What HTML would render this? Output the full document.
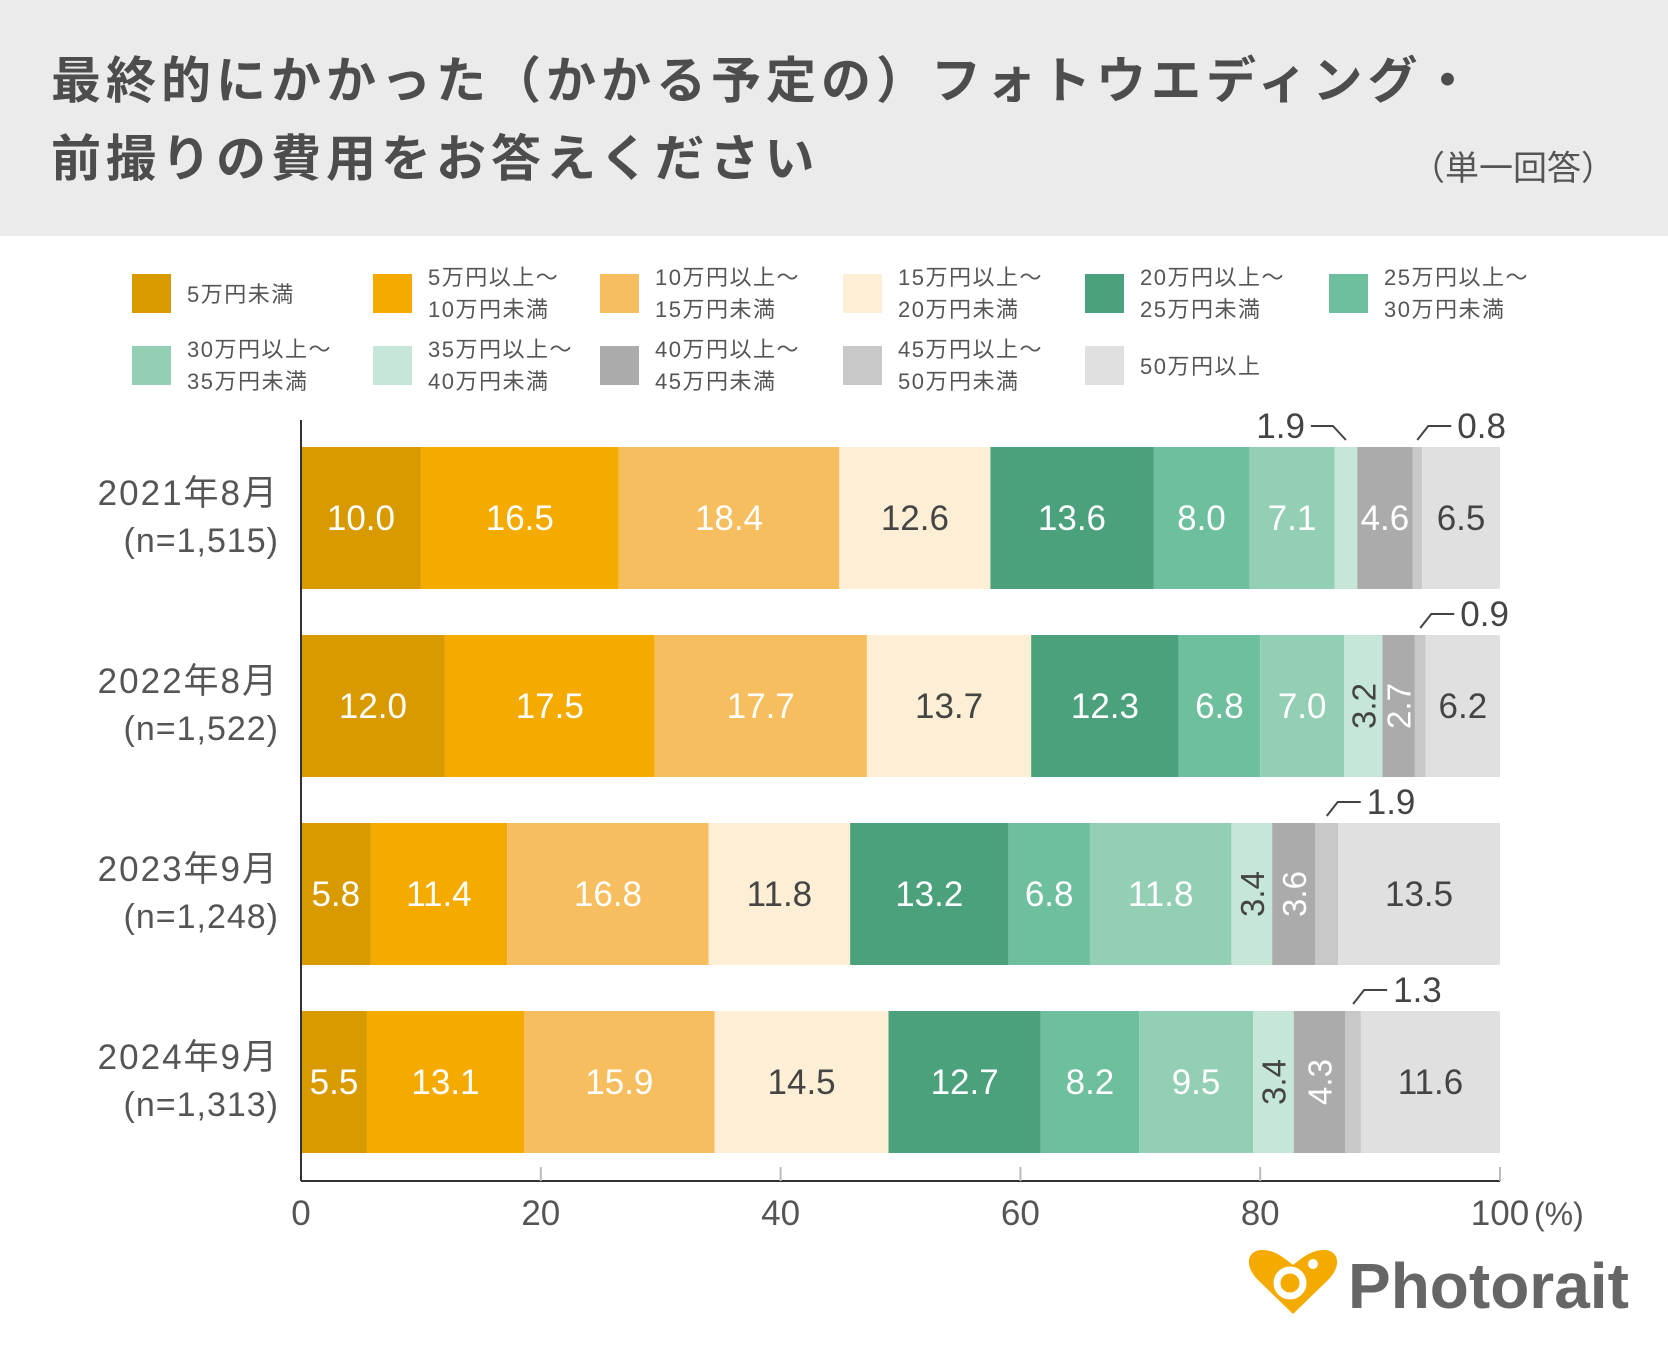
<!DOCTYPE html>
<html><head><meta charset="utf-8">
<style>
body{margin:0;background:#fff;}
svg{display:block;font-family:"Liberation Sans","Noto Sans CJK JP",sans-serif;}
</style></head>
<body>
<svg id="chart" width="1668" height="1350" viewBox="0 0 1668 1350" xmlns="http://www.w3.org/2000/svg">
<rect x="0" y="0" width="1668" height="236" fill="#ebebeb"/>
<text x="51" y="98" font-size="50" font-weight="bold" fill="#4d4d4d" letter-spacing="5">最終的にかかった（かかる予定の）フォトウエディング・</text>
<text x="51" y="176" font-size="50" font-weight="bold" fill="#4d4d4d" letter-spacing="5">前撮りの費用をお答えください</text>
<text x="1615" y="180" font-size="34" fill="#555" text-anchor="end">（単一回答）</text>
<g id="legend"></g>
<g id="plot"></g>
<g>
<path d="M1293,1314 L1258,1280 C1243,1265 1248,1250 1262,1250 C1275,1250 1284,1258 1293,1265 C1302,1258 1311,1250 1324,1250 C1338,1250 1343,1265 1328,1280 Z" fill="#f5aa00"/>
<circle cx="1290" cy="1283" r="13" fill="none" stroke="#fff" stroke-width="7"/>
<circle cx="1313" cy="1264" r="5" fill="#fff"/>
<text x="1348" y="1308" font-size="64" font-weight="bold" fill="#666">Photorait</text>
</g>
</svg>
<script>
const categories = ["2021年8月","2022年8月","2023年9月","2024年9月"];
const sampleSizes = ["(n=1,515)","(n=1,522)","(n=1,248)","(n=1,313)"];
const seriesNames = ["5万円未満","5万円以上～|10万円未満","10万円以上～|15万円未満","15万円以上～|20万円未満","20万円以上～|25万円未満","25万円以上～|30万円未満","30万円以上～|35万円未満","35万円以上～|40万円未満","40万円以上～|45万円未満","45万円以上～|50万円未満","50万円以上"];
const values2021 = [10.0,16.5,18.4,12.6,13.6,8.0,7.1,1.9,4.6,0.8,6.5];
const values2022 = [12.0,17.5,17.7,13.7,12.3,6.8,7.0,3.2,2.7,0.9,6.2];
const values2023 = [5.8,11.4,16.8,11.8,13.2,6.8,11.8,3.4,3.6,1.9,13.5];
const values2024 = [5.5,13.1,15.9,14.5,12.7,8.2,9.5,3.4,4.3,1.3,11.6];
const xTicks = [0,20,40,60,80,100];

const allValues = [values2021, values2022, values2023, values2024];
const colors = ["#d99a00","#f5aa00","#f7be5f","#fdefd6","#4aa17c","#6ebf9d","#93cfb5","#c6e6d8","#ababab","#c8c8c8","#e0e0e0"];
const textColors = ["#fff","#fff","#fff","#444","#fff","#fff","#fff","#444","#fff","#444","#444"];
const NS = "http://www.w3.org/2000/svg";
function mk(tag, attrs, parent, txt){const e=document.createElementNS(NS,tag);for(const k in attrs)e.setAttribute(k,attrs[k]);if(txt!==undefined)e.textContent=txt;parent.appendChild(e);return e;}

const X0=301, X1=1500, axisY=1181;
const xScale = v => X0 + (X1-X0)*v/100;
const barTop = i => 447 + i*188;
const barH = 142;

const legend = document.getElementById('legend');
const colX=[132,373,600,843,1085,1329];
seriesNames.forEach((n,i)=>{
  const r=Math.floor(i/6), c=i%6;
  const x=colX[c], y= r===0?274:346;
  const g=mk('g',{},legend);
  
  
  mk('rect',{x:x,y:y,width:39,height:39,fill:colors[i]},g);
  const parts=n.split('|');
  const st={'font-size':22,fill:'#555','letter-spacing':1.5};
  if(parts.length===1){ mk('text',Object.assign({x:x+55,y:y+28},st),g,parts[0]); }
  else { mk('text',Object.assign({x:x+55,y:y+11},st),g,parts[0]); mk('text',Object.assign({x:x+55,y:y+43},st),g,parts[1]); }
});

const plot = document.getElementById('plot');
allValues.forEach((vals,ri)=>{
  const top=barTop(ri), cy=top+barH/2;
  const yl=mk('text',{x:279,y:cy-13,'font-size':35,fill:'#555','text-anchor':'end','letter-spacing':2},plot,categories[ri]);
  
  
  const nl=mk('text',{x:279,y:cy+34,'font-size':34,fill:'#555','text-anchor':'end','letter-spacing':1},plot,sampleSizes[ri]);
  
  
  let cum=0;
  vals.forEach((v,si)=>{
    const xa=xScale(cum), xb=xScale(cum+v); cum+=v;
    const r=mk('rect',{x:xa,y:top,width:xb-xa,height:barH,fill:colors[si]},plot);
    
    
    const cx=(xa+xb)/2, w=xb-xa, label=v.toFixed(1);
    if(w>=54){
      const t=mk('text',{x:cx,y:cy+12,'font-size':35,fill:textColors[si],'text-anchor':'middle'},plot,label);
      
      
    } else if(w>=28){
      const t=mk('text',{x:0,y:0,'font-size':33,fill:textColors[si],'text-anchor':'middle',transform:`translate(${cx+12},${cy}) rotate(-90)`},plot,label);
      
      
    } else {
      const leftSide = (ri===0 && si===7);
      const g=mk('g',{},plot);
      
      
      const ty=top-21;
      if(leftSide){
        mk('polyline',{points:`${cx},${top-7} ${cx-13},${ty} ${cx-35},${ty}`,fill:'none',stroke:'#444','stroke-width':2},g);
        mk('text',{x:cx-41,y:ty+12,'font-size':35,fill:'#444','text-anchor':'end'},g,label);
      } else {
        mk('polyline',{points:`${cx},${top-7} ${cx+11},${ty} ${cx+34},${ty}`,fill:'none',stroke:'#444','stroke-width':2},g);
        mk('text',{x:cx+40,y:ty+12,'font-size':35,fill:'#444'},g,label);
      }
    }
  });
});
const ya=mk('line',{x1:X0,y1:420,x2:X0,y2:axisY,stroke:'#333','stroke-width':2},plot);


const xa=mk('line',{x1:X0,y1:axisY,x2:X1,y2:axisY,stroke:'#333','stroke-width':2},plot);


xTicks.forEach(t=>{
  const x=xScale(t);
  if(t>0) mk('line',{x1:x,y1:axisY-14,x2:x,y2:axisY,stroke:'#bbb','stroke-width':2},plot);
  const tl=mk('text',{x:x,y:axisY+44,'font-size':35,fill:'#555','text-anchor':'middle'},plot,String(t));
  
  
});
const unit=mk('text',{x:X1+34,y:axisY+44,'font-size':32,fill:'#555'},plot,'(%)');


</script>
</body></html>
